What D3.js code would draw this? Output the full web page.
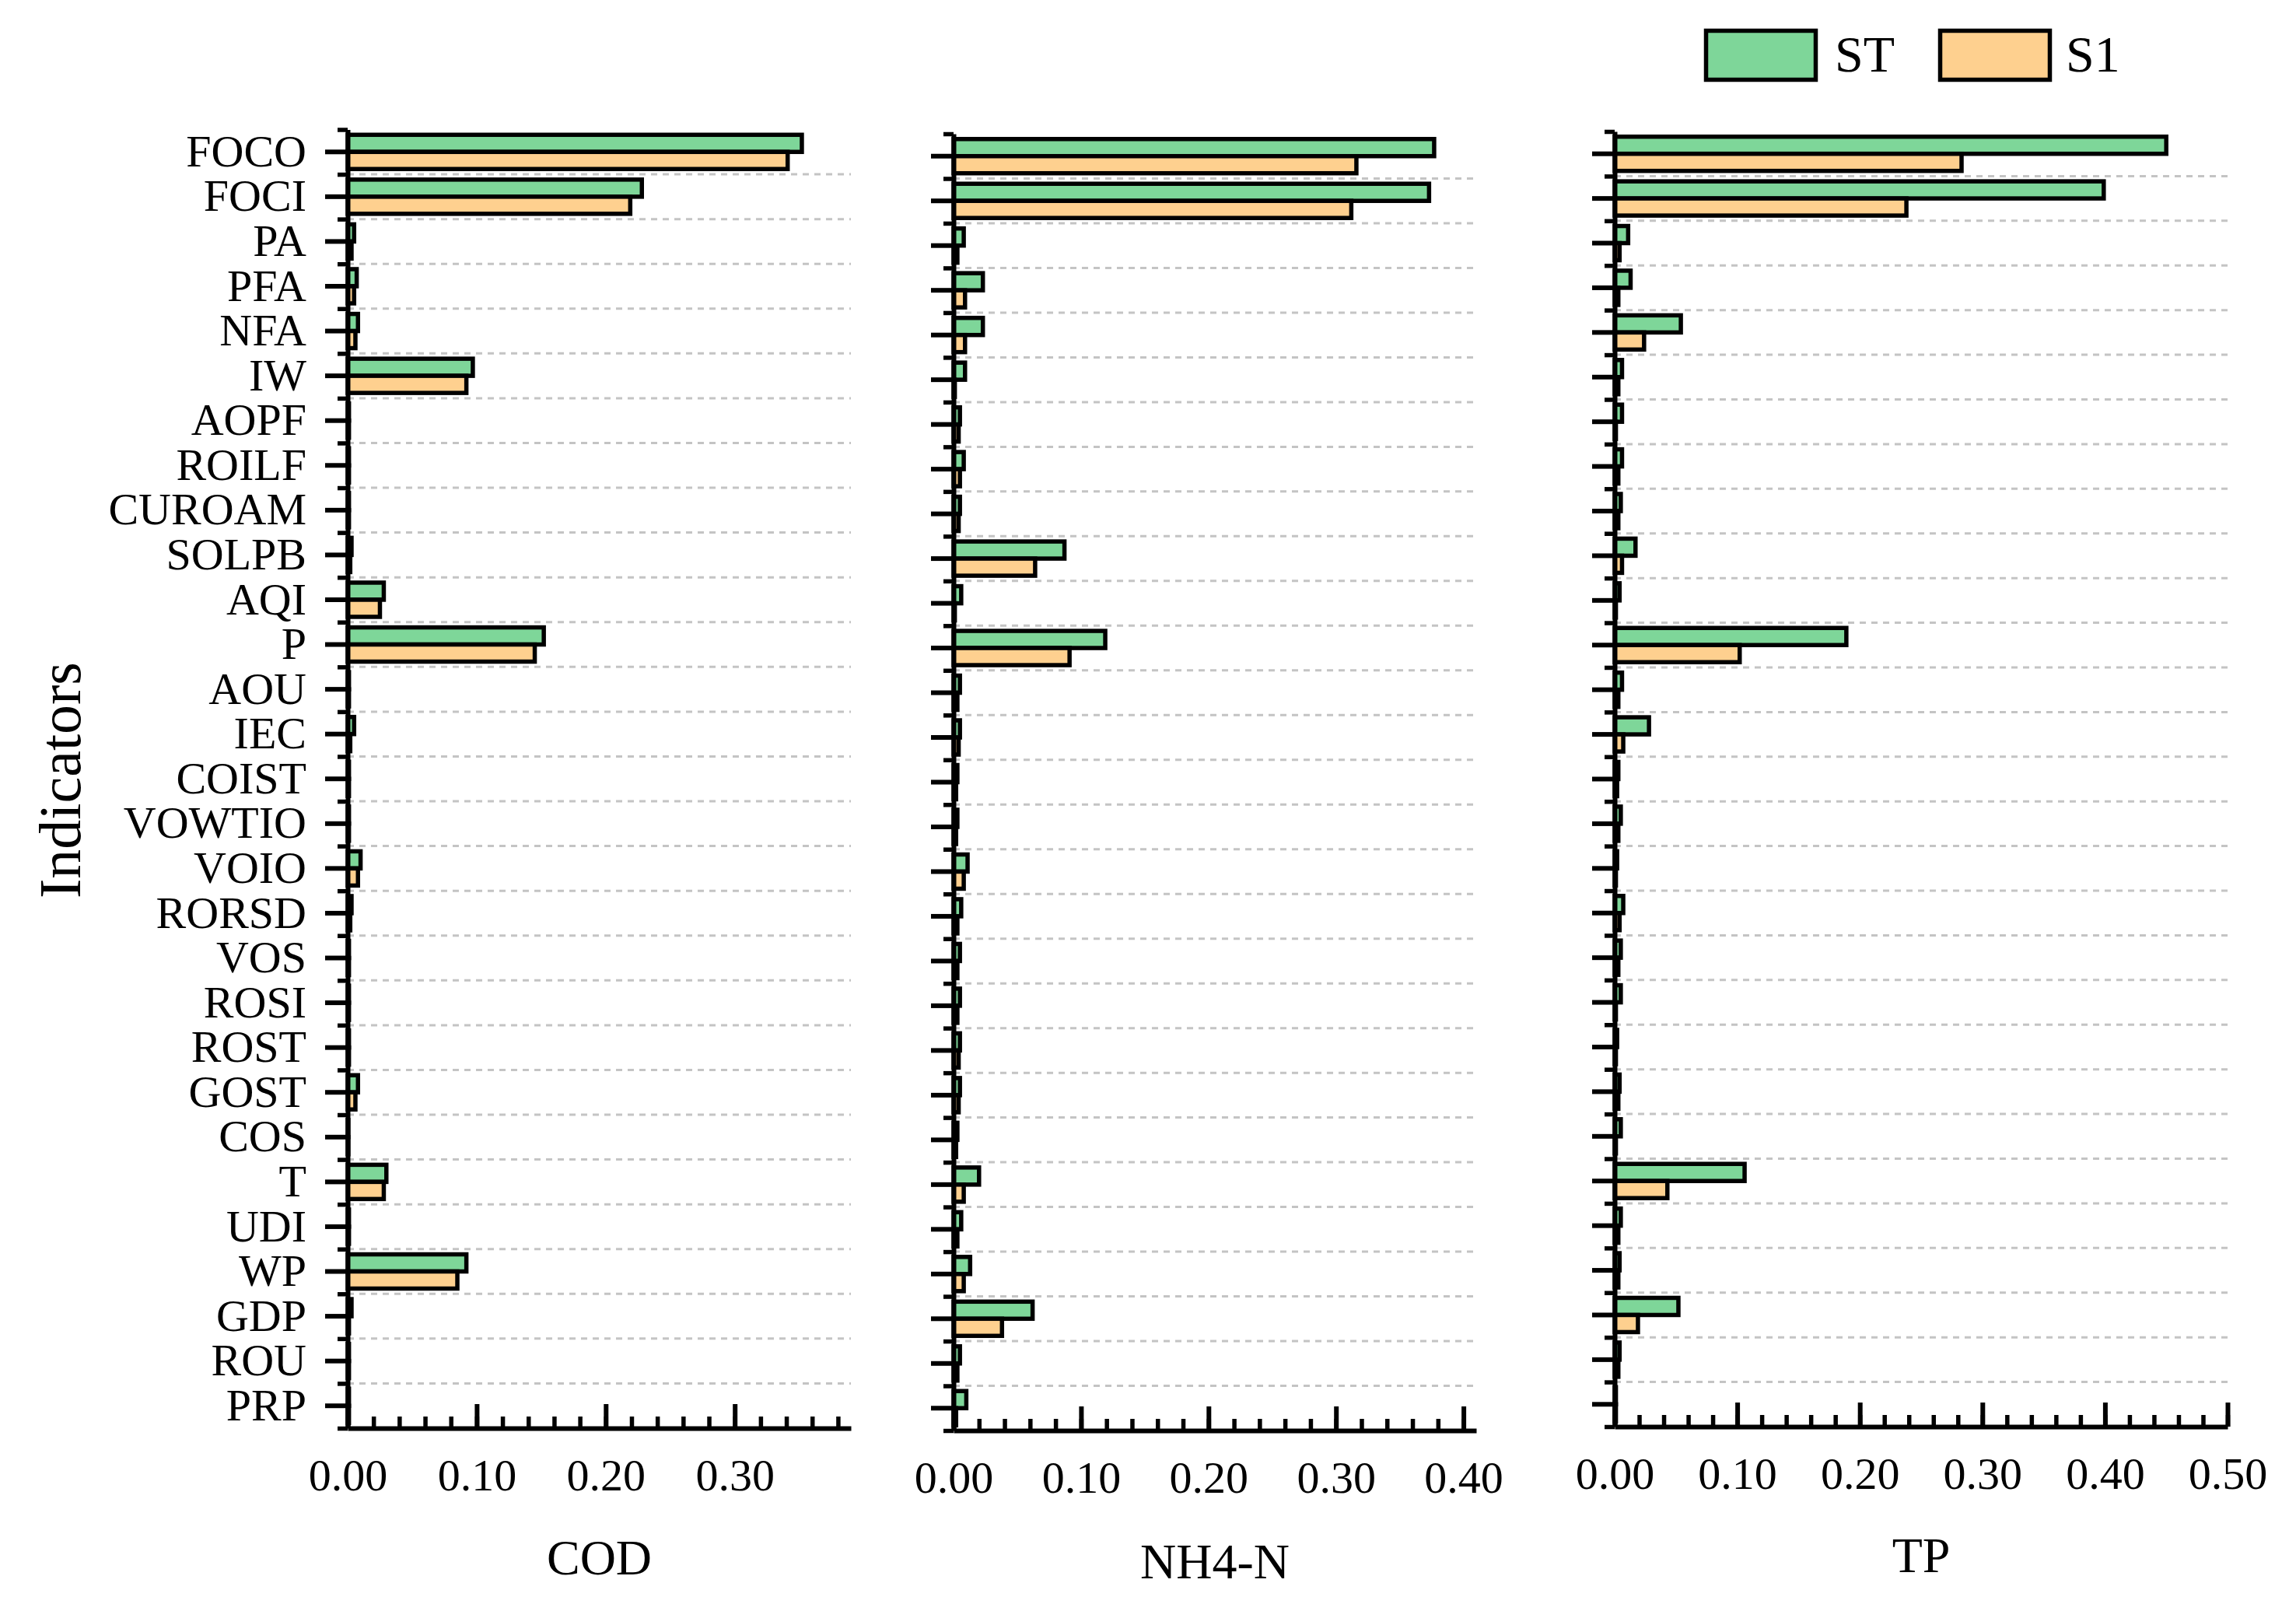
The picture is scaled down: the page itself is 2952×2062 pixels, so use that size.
<!DOCTYPE html>
<html><head><meta charset="utf-8">
<script src="https://cdn.jsdelivr.net/npm/d3@7"></script>
<style>
body{margin:0;background:#fff}
svg{display:block}
text{font-family:"Liberation Serif","Times New Roman",serif;fill:#000}
</style>
</head><body>
<svg id="chart" width="2952" height="2062"></svg>
<script>
// ---------------- DATA ----------------
const categories = ["FOCO","FOCI","PA","PFA","NFA","IW","AOPF","ROILF","CUROAM","SOLPB","AQI","P","AOU","IEC","COIST","VOWTIO","VOIO","RORSD","VOS","ROSI","ROST","GOST","COS","T","UDI","WP","GDP","ROU","PRP"];
const seriesNames = ["ST","S1"];

const codST = [0.352,0.228,0.005,0.007,0.008,0.097,0.001,0.001,0.001,0.003,0.028,0.152,0.001,0.005,0.001,0.001,0.010,0.003,0.001,0.001,0.001,0.008,0.0005,0.030,0.001,0.092,0.003,0.001,0.001];
const codS1 = [0.341,0.219,0.003,0.005,0.006,0.092,0.001,0.001,0.001,0.002,0.025,0.145,0.001,0.002,0.001,0.001,0.008,0.002,0.001,0.001,0.001,0.006,0.0005,0.028,0.001,0.085,0.001,0.001,0.001];

const nhST = [0.377,0.373,0.008,0.023,0.023,0.009,0.005,0.008,0.005,0.087,0.006,0.119,0.005,0.005,0.003,0.003,0.011,0.006,0.005,0.005,0.005,0.005,0.003,0.020,0.006,0.013,0.062,0.005,0.010];
const nhS1 = [0.316,0.312,0.003,0.009,0.009,0.001,0.004,0.005,0.004,0.064,0.001,0.091,0.003,0.004,0.002,0.002,0.008,0.003,0.003,0.003,0.004,0.004,0.002,0.008,0.003,0.008,0.038,0.003,0.002];

const tpST = [0.450,0.399,0.011,0.013,0.054,0.006,0.006,0.006,0.005,0.017,0.004,0.189,0.006,0.028,0.003,0.005,0.002,0.007,0.005,0.005,0.002,0.004,0.005,0.106,0.005,0.004,0.052,0.004,0.001];
const tpS1 = [0.283,0.238,0.004,0.003,0.024,0.003,0.001,0.003,0.003,0.006,0.001,0.102,0.003,0.007,0.002,0.003,0.001,0.004,0.003,0.001,0.001,0.003,0.001,0.043,0.003,0.003,0.019,0.003,0.001];

const codTicks = [0.00,0.10,0.20,0.30];
const nhTicks  = [0.00,0.10,0.20,0.30,0.40];
const tpTicks  = [0.00,0.10,0.20,0.30,0.40,0.50];
const panelTitles = ["COD","NH4-N","TP"];
const axisTitle = "Indicators";

// ---------------- STYLE / LAYOUT ----------------
const colors = {ST:"#7ed699", S1:"#fed08f"};
const FONT_TICK = 58, FONT_TITLE = 64;
const AXIS_W = 6, BAR_STROKE = 5.5;
const layout = [
  {st:codST, s1:codS1, ticks:codTicks, max:0.39, x0:447,  x1:1094, top:166.5, bottom:1836, titleY:2024},
  {st:nhST,  s1:nhS1,  ticks:nhTicks,  max:0.41, x0:1226, x1:1898, top:172,   bottom:1839, titleY:2029},
  {st:tpST,  s1:tpS1,  ticks:tpTicks,  max:0.50, x0:2076, x1:2864, top:169,   bottom:1834, titleY:2021}
];

const svg = d3.select("#chart");

layout.forEach((p, pi) => {
  const x = d3.scaleLinear().domain([0, p.max]).range([p.x0, p.x1]);
  const y = d3.scaleBand().domain(categories).range([p.top, p.bottom]).paddingInner(0).paddingOuter(0);
  const bw = y.bandwidth();
  const g = svg.append("g");

  // dashed gridlines at category boundaries
  g.append("g").selectAll("line")
    .data(categories.slice(1))
    .join("line")
    .attr("x1", x(0)).attr("x2", x(p.max))
    .attr("y1", d => y(d)).attr("y2", d => y(d))
    .attr("stroke", "#c4c4c4").attr("stroke-width", 3)
    .attr("stroke-dasharray", "8,7");

  // bars
  const barH = 22;
  const rows = categories.map((c, i) => ({c, st:p.st[i], s1:p.s1[i]}));
  g.append("g").selectAll("rect")
    .data(rows).join("rect")
    .attr("x", x(0)).attr("y", d => y(d.c) + bw/2 - barH)
    .attr("width", d => x(d.st) - x(0)).attr("height", barH)
    .attr("fill", colors.ST).attr("stroke", "#000").attr("stroke-width", BAR_STROKE);
  g.append("g").selectAll("rect")
    .data(rows).join("rect")
    .attr("x", x(0)).attr("y", d => y(d.c) + bw/2)
    .attr("width", d => x(d.s1) - x(0)).attr("height", barH)
    .attr("fill", colors.S1).attr("stroke", "#000").attr("stroke-width", BAR_STROKE);

  // y axis (category ticks at band centres)
  const yAxis = d3.axisLeft(y).tickSize(29).tickSizeOuter(0).tickPadding(24)
    .tickFormat(pi === 0 ? (d => d) : (() => ""));
  const ya = g.append("g").attr("transform", `translate(${x(0)},0)`).call(yAxis);
  ya.selectAll("path,line").attr("stroke", "#000").attr("stroke-width", AXIS_W);
  ya.selectAll("text").attr("font-size", FONT_TICK).attr("font-family", "Liberation Serif, Times New Roman, serif").attr("fill", "#000");

  // short boundary ticks on y axis
  const yb = d3.scaleLinear().domain([0, categories.length]).range([p.top, p.bottom]);
  const yAxisB = d3.axisLeft(yb).tickValues(d3.range(0, categories.length + 1)).tickSize(13).tickSizeOuter(0).tickFormat(() => "");
  const yba = g.append("g").attr("transform", `translate(${x(0)},0)`).call(yAxisB);
  yba.select("path").remove();
  yba.selectAll("line").attr("stroke", "#000").attr("stroke-width", AXIS_W - 0.5);

  // x axis: minor ticks
  const minorVals = d3.range(0, Math.floor(p.max * 50 + 1e-9) + 1).map(k => k / 50);
  const xMinor = d3.axisBottom(x).tickValues(minorVals).tickSize(-15).tickSizeOuter(0).tickFormat(() => "");
  const xm = g.append("g").attr("transform", `translate(0,${p.bottom})`).call(xMinor);
  xm.select("path").remove();
  xm.selectAll("line").attr("stroke", "#000").attr("stroke-width", AXIS_W - 0.5);

  // x axis: major ticks and labels
  const xAxis = d3.axisBottom(x).tickValues(p.ticks).tickSize(-31).tickSizeOuter(0).tickFormat(d3.format(".2f"));
  const xa = g.append("g").attr("transform", `translate(0,${p.bottom})`).call(xAxis);
  xa.selectAll("path,line").attr("stroke", "#000").attr("stroke-width", AXIS_W);
  xa.selectAll("text").attr("font-size", FONT_TICK).attr("font-family", "Liberation Serif, Times New Roman, serif")
    .attr("fill", "#000").attr("y", 80).attr("dy", null);

  // panel title
  svg.append("text").attr("x", (p.x0 + p.x1) / 2).attr("y", p.titleY)
    .attr("text-anchor", "middle").attr("font-size", FONT_TITLE).text(panelTitles[pi]);
});

// y-axis title
svg.append("text").attr("transform", "translate(103,1003) rotate(-90)")
  .attr("text-anchor", "middle").attr("font-size", 76).text(axisTitle);

// legend
const legendPos = [{x:2191, tx:2359}, {x:2492, tx:2656}];
seriesNames.forEach((s, i) => {
  svg.append("rect").attr("x", legendPos[i].x + 2.5).attr("y", 39.5).attr("width", 141).attr("height", 63)
    .attr("fill", colors[s]).attr("stroke", "#000").attr("stroke-width", 5.5);
  svg.append("text").attr("x", legendPos[i].tx).attr("y", 92).attr("font-size", 66).text(s);
});
</script>
</body></html>
